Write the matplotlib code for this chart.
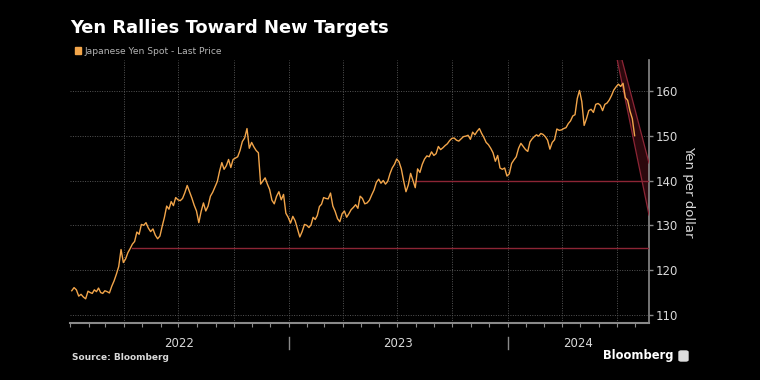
import numpy as np
import pandas as pd
import matplotlib
import matplotlib.pyplot as plt
import matplotlib.dates as mdates
from matplotlib.patches import Rectangle, FancyBboxPatch
from matplotlib.transforms import blended_transform_factory

matplotlib.rcParams['font.family'] = ['DejaVu Sans']

# USD/JPY, 8 readings per month
yen_2022 = [
    115.4, 116.1, 115.6, 114.2, 114.6, 114.0, 113.6, 115.3,   # Jan
    115.0, 114.8, 115.6, 115.2, 116.0, 115.0, 114.8, 115.4,   # Feb
    115.2, 114.9, 116.4, 117.6, 119.1, 120.8, 124.6, 121.7,   # Mar
    122.5, 123.9, 124.8, 125.8, 126.4, 128.5, 128.0, 130.2,   # Apr
    130.0, 130.6, 129.4, 128.6, 129.2, 127.8, 127.0, 127.6,   # May
    129.8, 131.8, 134.3, 133.6, 135.3, 134.4, 136.2, 135.7,   # Jun
    135.5, 136.0, 137.3, 138.9, 137.5, 136.1, 134.5, 133.2,   # Jul
    130.6, 133.1, 135.0, 133.2, 134.3, 136.5, 137.4, 138.6,   # Aug
    139.8, 142.1, 144.0, 142.5, 143.3, 144.7, 142.9, 144.7,   # Sep
    145.0, 145.3, 146.7, 148.7, 149.5, 151.6, 147.2, 148.5,   # Oct
    147.5, 146.7, 146.2, 139.2, 139.9, 140.6, 139.2, 138.0,   # Nov
    135.6, 134.8, 136.5, 137.5, 135.7, 136.9, 132.7, 131.8,   # Dec
]
yen_2023 = [
    130.5, 132.0, 131.0, 129.2, 127.4, 128.6, 130.2, 130.0,   # Jan
    129.5, 130.1, 131.8, 131.3, 132.2, 134.2, 134.7, 136.2,   # Feb
    136.0, 135.9, 137.2, 134.3, 133.1, 131.5, 130.8, 132.6,   # Mar
    133.2, 131.8, 132.6, 133.5, 134.0, 134.6, 133.8, 136.5,   # Apr
    136.0, 134.8, 135.0, 135.6, 136.8, 137.9, 139.6, 140.3,   # May
    139.4, 140.0, 139.2, 139.8, 141.5, 142.8, 143.6, 144.8,   # Jun
    144.2, 142.6, 139.9, 137.5, 139.0, 141.6, 140.0, 138.4,   # Jul
    142.6, 141.8, 143.6, 144.8, 145.5, 145.3, 146.4, 145.6,   # Aug
    146.0, 147.6, 146.9, 147.3, 147.8, 148.2, 148.9, 149.4,   # Sep
    149.5, 149.0, 148.8, 149.3, 149.8, 149.9, 150.1, 149.2,   # Oct
    150.8, 150.2, 151.0, 151.6, 150.5, 149.6, 148.5, 148.0,   # Nov
    147.2, 146.2, 144.3, 145.6, 142.8, 142.5, 142.8, 141.0,   # Dec
]
yen_2024 = [
    141.5, 143.8, 144.6, 145.3, 147.2, 148.3, 147.6, 146.9,   # Jan
    146.5, 148.6, 149.3, 149.8, 150.2, 149.9, 150.5, 150.3,   # Feb
    149.8, 149.0, 147.0, 148.5, 149.1, 151.5, 151.2, 151.3,   # Mar
    151.6, 151.8, 152.7, 153.3, 154.4, 154.7, 158.3, 160.1,   # Apr
    157.6, 152.3, 153.8, 155.6, 155.9, 155.2, 157.0, 157.2,   # May
    156.8, 155.6, 157.0, 157.3, 158.0, 159.0, 160.2, 160.9,   # Jun
    161.5, 161.0, 161.7, 158.5, 157.9, 155.5, 153.8, 150.0,   # Jul
]
months = pd.date_range('2022-01-01', '2024-07-01', freq='MS')

# support levels and falling channel
levels = [125, 140]
level_starts = ['2022-04-15', '2023-07-30']
chan_end = '2024-08-24'
chan_upper = (['2024-07-10', chan_end], [166.9, 143.9])
chan_lower = (['2024-07-02', chan_end], [166.9, 132.3])

year_labels = ['2022', '2023', '2024']
yticks = [110, 120, 130, 140, 150, 160]

values = yen_2022 + yen_2023 + yen_2024
dates = [m + pd.Timedelta(days=(i + 0.75) / 8 * m.days_in_month)
         for m in months for i in range(8)]

bg = 'black'
orange = '#f2a54a'
red = '#8c2535'
grid_c = '#555555'
axis_c = '#8a8a8a'
text_c = '#d9d9d9'

fig = plt.figure(figsize=(7.6, 3.8), dpi=100, facecolor=bg)
ax = fig.add_axes([70 / 760, 1 - 323 / 380, 579 / 760, 263 / 380])
ax.set_facecolor(bg)

xmin = pd.Timestamp('2022-01-01')
xmax = pd.Timestamp(chan_end)
ax.set_xlim(xmin, xmax)
ax.set_ylim(108.2, 166.9)

# gridlines
for q in pd.date_range('2022-04-01', '2024-07-01', freq='QS'):
    ax.axvline(q, color=grid_c, lw=0.7, ls=(0, (1, 1.5)), zorder=1)
for t in yticks:
    ax.axhline(t, color=grid_c, lw=0.7, ls=(0, (1, 1.5)), zorder=1)

# channel
ux = pd.to_datetime(chan_upper[0])
lx = pd.to_datetime(chan_lower[0])
poly_x = list(lx) + list(ux[::-1])
poly_y = list(chan_lower[1]) + list(chan_upper[1][::-1])
ax.fill(poly_x, poly_y, color='#2c080d', zorder=2, lw=0)
ax.plot(ux, chan_upper[1], color=red, lw=0.9, zorder=3)
ax.plot(lx, chan_lower[1], color=red, lw=0.9, zorder=3)

# horizontal levels
for lv, st in zip(levels, level_starts):
    ax.plot([pd.Timestamp(st), xmax], [lv, lv], color=red, lw=1.0, zorder=3)

ax.plot(dates, values, color=orange, lw=1.0, zorder=4)

# axes styling
for s in ['left', 'top']:
    ax.spines[s].set_visible(False)
ax.spines['bottom'].set_color(axis_c)
ax.spines['bottom'].set_linewidth(1.5)
ax.spines['right'].set_color(axis_c)
ax.spines['right'].set_linewidth(1.2)

ax.yaxis.tick_right()
ax.set_yticks(yticks)
ax.tick_params(axis='y', colors=axis_c, labelcolor=text_c, labelsize=8.5,
               length=3, width=1, pad=2)
ax.yaxis.set_label_position('right')
ax.set_ylabel('Yen per dollar', color=text_c, fontsize=9.5, rotation=270,
              labelpad=12)

ax.xaxis.set_major_locator(mdates.MonthLocator())
ax.xaxis.set_major_formatter(plt.NullFormatter())
ax.tick_params(axis='x', colors=axis_c, length=3, width=0.8, direction='out')

trans = blended_transform_factory(ax.transData, ax.transAxes)
year_starts = [xmin, pd.Timestamp('2023-01-01'), pd.Timestamp('2024-01-01'), xmax]
for i, lab in enumerate(year_labels):
    mid = year_starts[i] + (year_starts[i + 1] - year_starts[i]) / 2
    ax.text(mid, -0.077, lab, transform=trans, ha='center', va='center',
            color=text_c, fontsize=8.5)
for ys in year_starts[1:3]:
    ax.plot([ys, ys], [-0.053, -0.1], transform=trans, color=axis_c,
            lw=1, clip_on=False)

# title, legend, footer
fig.text(70 / 760, 1 - 28 / 380, 'Yen Rallies Toward New Targets',
         color='white', fontsize=12.9, fontweight='bold', va='center')
fig.patches.append(Rectangle((75 / 760, 1 - 54 / 380), 6 / 760, 7 / 380,
                             transform=fig.transFigure, color=orange))
fig.text(84 / 760, 1 - 51 / 380, 'Japanese Yen Spot - Last Price',
         color='#b5b5b5', fontsize=6.6, va='center')
fig.text(72 / 760, 1 - 357 / 380, 'Source: Bloomberg', color=text_c,
         fontsize=6.5, fontweight='bold', va='center')
fig.text(674 / 760, 1 - 356 / 380, 'Bloomberg', color='white',
         fontsize=8.3, fontweight='bold', va='center', ha='right')
fig.patches.append(FancyBboxPatch((679 / 760, 1 - 361 / 380), 9 / 760, 10 / 380,
                                  boxstyle='round,pad=0,rounding_size=0.003',
                                  transform=fig.transFigure, color='#dddddd'))

fig.savefig('out.png', dpi=100, facecolor=bg)
